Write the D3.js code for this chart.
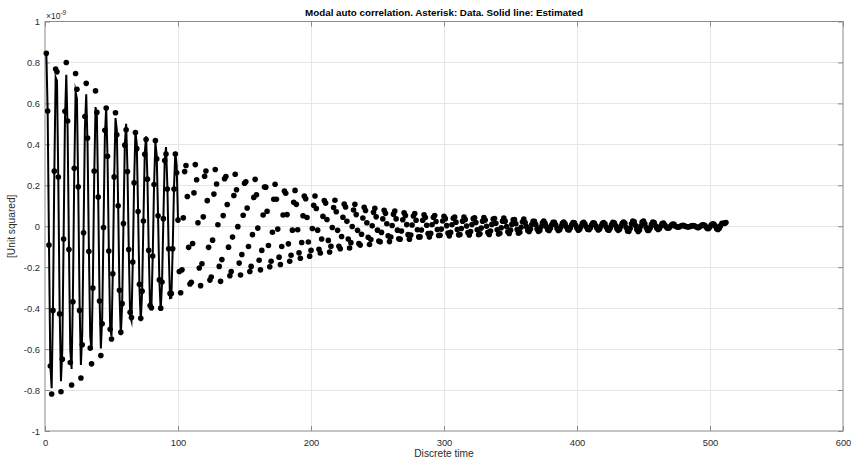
<!DOCTYPE html>
<html>
<head>
<meta charset="utf-8">
<script src="https://cdn.jsdelivr.net/npm/d3@7"></script>
<style>
  body { margin: 0; background: #fff; }
  svg { display: block; }
  text { font-family: "Liberation Sans", Arial, Helvetica, sans-serif; }
</style>
</head>
<body>
<svg id="chart" width="851" height="459"></svg>
<script>
// Axis ticks (y ticks are in units of 1e-9)
const xTicks = [0, 100, 200, 300, 400, 500, 600];
const yTicks = [-1, -0.8, -0.6, -0.4, -0.2, 0, 0.2, 0.4, 0.6, 0.8, 1];
const yExponent = -9;

// Measured auto correlation, discrete time 1..512 (units of 1e-12)
const dataValues = [
  845, 563, -92, -683, -819, -411, 269, 768, 754, 240, -428, -808, -649, -62, 562,
  800, 514, -114, -666, -775, -369, 283, 746, 669, 193, -411, -741, -579, -32, 536,
  698, 431, -123, -595, -672, -302, 269, 661, 556, 143, -365, -631, -476, -6, 469,
  577, 342, -121, -503, -551, -232, 241, 554, 447, 100, -313, -518, -378, 13, 396,
  471, 267, -114, -420, -446, -175, 212, 458, 379, 72, -283, -449, -317, 26, 352,
  424, 230, -118, -387, -398, -145, 204, 418, 329, 51, -262, -400, -272, 37, 321,
  353, 182, -110, -329, -329, -110, 182, 353, 261, 30, -221, -325, -213, 41, 267,
  297, 145, -103, -282, -274, -84, 163, 301, 227, 17, -204, -290, -183, 46, 244,
  270, 125, -103, -263, -248, -68, 157, 277, 206, 7, -196, -269, -163, 52, 232,
  243, 106, -102, -242, -221, -53, 150, 254, 178, -2, -180, -238, -138, 54, 210,
  217, 89, -99, -221, -196, -41, 141, 229, 154, -9, -166, -213, -118, 55, 192,
  191, 73, -94, -198, -171, -29, 132, 205, 132, -14, -151, -187, -99, 55, 172,
  161, 57, -86, -171, -142, -19, 117, 175, 107, -17, -130, -156, -79, 51, 147,
  134, 43, -77, -146, -118, -11, 102, 148, 87, -19, -112, -131, -62, 48, 126,
  113, 33, -69, -126, -98, -6, 91, 127, 71, -20, -98, -110, -50, 44, 108,
  94, 24, -62, -106, -80, -1, 79, 107, 57, -20, -84, -92, -39, 40, 93,
  77, 17, -54, -89, -65, 2, 68, 88, 46, -19, -72, -76, -30, 36, 78,
  63, 12, -47, -75, -53, 4, 59, 74, 36, -19, -61, -63, -23, 32, 66,
  52, 8, -41, -63, -43, 6, 50, 62, 29, -17, -52, -52, -18, 29, 56,
  43, 5, -36, -53, -35, 7, 44, 52, 23, -16, -45, -44, -14, 26, 48,
  37, 3, -33, -47, -30, 7, 39, 45, 20, -16, -42, -40, -11, 25, 45,
  33, 1, -31, -43, -26, 8, 37, 41, 18, -17, -41, -37, -9, 25, 43,
  30, 0, -30, -40, -23, 9, 35, 38, 15, -17, -38, -34, -7, 25, 40,
  25, -1, -27, -35, -19, 9, 31, 33, 12, -16, -34, -29, -5, 22, 35,
  18, -2, -21, -26, -14, 8, 24, 24, 8, -13, -25, -21, -3, 17, 26,
  14, -2, -17, -21, -10, 7, 19, 19, 6, -11, -21, -17, -2, 14, 21,
  12, -3, -16, -18, -9, 7, 18, 17, 5, -10, -19, -15, -1, 14, 19,
  11, -3, -15, -17, -8, 7, 17, 16, 4, -10, -18, -14, 0, 13, 18,
  12, -4, -17, -19, -8, 8, 19, 17, 4, -12, -20, -15, 0, 15, 20,
  15, -6, -23, -25, -10, 12, 25, 22, 4, -16, -26, -18, 1, 20, 26,
  12, -6, -20, -20, -8, 10, 21, 18, 2, -10, -16, -11, 1, 13, 16,
  6, -3, -10, -10, -3, 6, 11, 9, 0, -3, -5, -3, 1, 4, 5,
  1, -1, -3, -3, -1, 2, 3, 2, 0, -5, -7, -4, 1, 6, 7,
  5, -4, -11, -11, -3, 7, 12, 9, 1, -12, -16, -10, 3, 14, 15,
  14, 18
];

// Estimated modal auto correlation, discrete time 1..100 (units of 1e-12)
const estimatedValues = [
  845, 561, -91, -675, -791, -392, 256, 727, 711, 226, -402, -757, -606, -57, 519,
  740, 472, -104, -603, -697, -329, 251, 657, 624, 179, -378, -677, -525, -29, 479,
  644, 395, -112, -538, -604, -269, 239, 582, 537, 137, -348, -597, -448, -5, 435,
  582, 342, -120, -495, -538, -225, 231, 528, 471, 105, -325, -532, -386, 13, 396,
  500, 282, -120, -436, -461, -180, 215, 463, 401, 75, -295, -464, -325, 27, 356,
  439, 236, -120, -391, -400, -145, 202, 411, 345, 52, -270, -410, -277, 37, 321,
  387, 198, -118, -351, -349, -116, 189, 364, 296, 34
];

const titleText = "Modal auto correlation. Asterisk: Data. Solid line: Estimated";
const xLabelText = "Discrete time";
const yLabelText = "[Unit squared]";

const VALUE_UNIT = 1e-12;
const data = dataValues.map((v, i) => ({ t: i + 1, v: v * VALUE_UNIT }));
const estimated = estimatedValues.map((v, i) => ({ t: i + 1, v: v * VALUE_UNIT }));

const plot = { left: 45, right: 843, top: 21.5, bottom: 431 };
const svg = d3.select("#chart");

const x = d3.scaleLinear().domain([0, 600]).range([plot.left, plot.right]);
const y = d3.scaleLinear().domain([-1e-9, 1e-9]).range([plot.bottom, plot.top]);

const tickFont = 9.4;
const textColor = "#2b2b2b";
const axisColor = "#8a8a8a";

// Grid
const grid = svg.append("g").attr("stroke", "#e6e6e6").attr("stroke-width", 1);
grid.selectAll("line.gx")
  .data(xTicks.slice(1, -1))
  .join("line")
  .attr("class", "gx")
  .attr("x1", d => Math.round(x(d)) + 0.5).attr("x2", d => Math.round(x(d)) + 0.5)
  .attr("y1", plot.top).attr("y2", plot.bottom);
grid.selectAll("line.gy")
  .data(yTicks.slice(1, -1))
  .join("line")
  .attr("class", "gy")
  .attr("y1", d => Math.round(y(d * 1e-9)) + 0.5).attr("y2", d => Math.round(y(d * 1e-9)) + 0.5)
  .attr("x1", plot.left).attr("x2", plot.right);

// Axes (ticks point inward)
const fmtY = d => String(+(d / 1e-9).toFixed(1));
const yTickVals = yTicks.map(d => d * 1e-9);

function styleAxis(g, labels) {
  g.select(".domain").remove();
  g.selectAll(".tick line").attr("stroke", axisColor);
  g.selectAll(".tick text")
    .attr("fill", textColor)
    .style("font-size", tickFont + "px")
    .style("font-family", '"Liberation Sans", Arial, sans-serif');
  if (!labels) g.selectAll(".tick text").remove();
}

svg.append("g")
  .attr("transform", `translate(0,${plot.bottom})`)
  .call(d3.axisBottom(x).tickValues(xTicks).tickSizeInner(-5).tickSizeOuter(0).tickPadding(8))
  .call(g => styleAxis(g, true));
svg.append("g")
  .attr("transform", `translate(0,${plot.top})`)
  .call(d3.axisTop(x).tickValues(xTicks).tickSizeInner(-5).tickSizeOuter(0))
  .call(g => styleAxis(g, false));
svg.append("g")
  .attr("transform", `translate(${plot.left},0)`)
  .call(d3.axisLeft(y).tickValues(yTickVals).tickFormat(fmtY).tickSizeInner(-5).tickSizeOuter(0).tickPadding(5))
  .call(g => styleAxis(g, true));
svg.append("g")
  .attr("transform", `translate(${plot.right},0)`)
  .call(d3.axisRight(y).tickValues(yTickVals).tickSizeInner(-5).tickSizeOuter(0))
  .call(g => styleAxis(g, false));

// Axes box
svg.append("rect")
  .attr("x", plot.left).attr("y", plot.top)
  .attr("width", plot.right - plot.left).attr("height", plot.bottom - plot.top)
  .attr("fill", "none").attr("stroke", axisColor).attr("stroke-width", 1);

// Estimated response (solid line)
const line = d3.line().x(d => x(d.t)).y(d => y(d.v));
svg.append("path")
  .datum(estimated)
  .attr("d", line)
  .attr("fill", "none")
  .attr("stroke", "#000")
  .attr("stroke-width", 2)
  .attr("stroke-linejoin", "miter")
  .attr("stroke-miterlimit", 10);

// Measured samples (filled markers)
svg.append("g")
  .selectAll("circle")
  .data(data)
  .join("circle")
  .attr("cx", d => x(d.t))
  .attr("cy", d => y(d.v))
  .attr("r", 2.8)
  .attr("fill", "#000");

// Exponent label
const expo = svg.append("text")
  .attr("x", plot.left + 1)
  .attr("y", plot.top - 3)
  .attr("fill", textColor)
  .style("font-size", "8.5px");
expo.append("tspan").text("\u00d710");
expo.append("tspan").attr("dy", -4).style("font-size", "6.5px").text(String(yExponent));

// Title and axis labels
svg.append("text")
  .attr("x", (plot.left + plot.right) / 2)
  .attr("y", 16)
  .attr("text-anchor", "middle")
  .attr("fill", "#000")
  .style("font-size", "9.8px")
  .style("font-weight", "bold")
  .text(titleText);

svg.append("text")
  .attr("x", (plot.left + plot.right) / 2)
  .attr("y", 457)
  .attr("text-anchor", "middle")
  .attr("fill", textColor)
  .style("font-size", "10.2px")
  .text(xLabelText);

svg.append("text")
  .attr("transform", `translate(15,${(plot.top + plot.bottom) / 2}) rotate(-90)`)
  .attr("text-anchor", "middle")
  .attr("fill", textColor)
  .style("font-size", "10.2px")
  .text(yLabelText);
</script>
</body>
</html>
